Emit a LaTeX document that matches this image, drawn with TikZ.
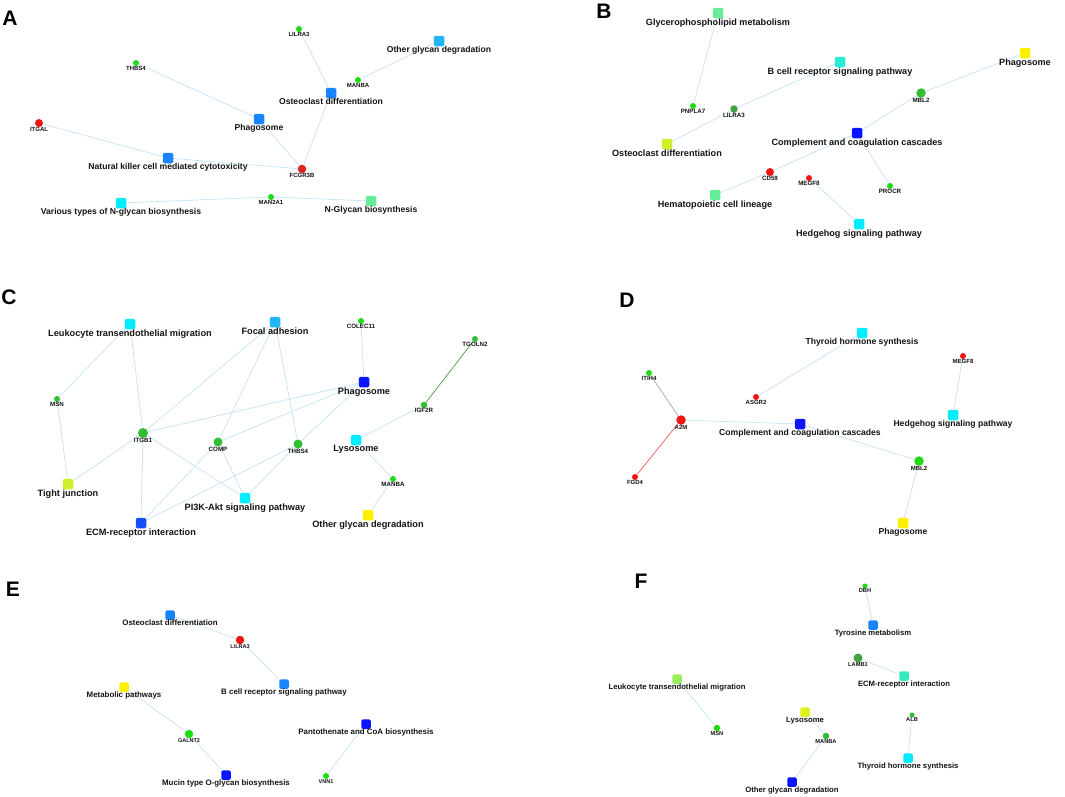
\documentclass[tikz,border=0pt]{standalone}
\usepackage{fontspec}
\setmainfont{Liberation Sans}
\usetikzlibrary{positioning,backgrounds}

\definecolor{sqblue}{RGB}{24,132,255}
\definecolor{sqsky}{RGB}{34,180,245}
\definecolor{sqcyan}{RGB}{0,236,255}
\definecolor{sqteal}{RGB}{40,236,215}
\definecolor{sqmint}{RGB}{102,236,150}
\definecolor{sqlime}{RGB}{205,240,40}
\definecolor{sqyellow}{RGB}{255,240,0}
\definecolor{sqdeep}{RGB}{10,20,255}
\definecolor{sqecm}{RGB}{20,80,245}
\definecolor{sqlgreen}{RGB}{150,238,90}
\definecolor{sqaqua}{RGB}{50,236,190}
\definecolor{sqlemon}{RGB}{222,242,30}
\definecolor{gbright}{RGB}{30,220,20}
\definecolor{gmid}{RGB}{50,190,50}
\definecolor{gdark}{RGB}{70,160,70}
\definecolor{gred}{RGB}{240,20,20}
\definecolor{gred2}{RGB}{220,35,35}
\definecolor{lkblue}{RGB}{198,228,247}
\definecolor{txt}{RGB}{20,20,20}

\tikzset{
    pwsize/.code={\def\pwfont{\bfseries\fontsize{#1}{#1}\selectfont}},
    gnsize/.code={\def\gnfont{\bfseries\fontsize{#1}{#1}\selectfont}},
    pwsize=9, gnsize=6,
    pw/.style={rectangle, rounded corners=1.5pt, minimum size=10.5pt, inner sep=0pt, label distance=0.6pt},
    gene/.style={circle, inner sep=0pt, minimum size=6pt, fill=gbright, label distance=0pt},
    pwlab/.style={font=\pwfont, text=txt, inner sep=0pt},
    gnlab/.style={font=\gnfont, text=txt, inner sep=0pt},
    lp/.style={label={[pwlab]below:#1}},
    lg/.style={label={[gnlab]below:#1}},
    lk/.style={draw=lkblue, line width=0.7pt},
    panel/.style={font=\bfseries\fontsize{21}{21}\selectfont, inner sep=0pt},
}

\begin{document}
\begin{tikzpicture}[x=1pt, y=-1pt]
    \begin{scope}[on background layer]
        \fill[white] (0,0) rectangle (1065,796);
    \end{scope}
    \useasboundingbox (0,0) rectangle (1065,796);

    % A
    \begin{scope}[pwsize=8.6, gnsize=6]
        \node[panel] (pa) at (10,18) {A};
        \node[gene, lg=LILRA3] (alilra) at (299,29) {};
        \node[pw, fill=sqsky, lp=Other glycan degradation] (aother) at (439,41) {};
        \node[gene, lg=THBS4] (athbs) at (136,63) {};
        \node[gene, lg=MANBA] (amanba) at (358,80) {};
        \node[pw, fill=sqblue, lp=Osteoclast differentiation] (aost) at (331,93) {};
        \node[pw, fill=sqblue, lp=Phagosome] (aphag) at (259,119) {};
        \node[gene, fill=gred, minimum size=8pt, lg=ITGAL] (aitgal) at (39,123) {};
        \node[pw, fill=sqblue, lp=Natural killer cell mediated cytotoxicity] (ank) at (168,158) {};
        \node[gene, fill=gred2, minimum size=8.5pt, lg=FCGR3B] (afcgr) at (302,169) {};
        \node[gene, lg=MAN2A1] (aman) at (271,197) {};
        \node[pw, fill=sqcyan, lp=Various types of N-glycan biosynthesis] (avar) at (121,203) {};
        \node[pw, fill=sqmint, lp=N-Glycan biosynthesis] (anglyc) at (371,201) {};

        \begin{scope}[on background layer]
            \draw[lk] (alilra) -- (aost);
            \draw[lk] (amanba) -- (aother);
            \draw[lk] (athbs) -- (aphag);
            \draw[lk] (aost) -- (afcgr);
            \draw[lk] (aphag) -- (afcgr);
            \draw[lk] (aitgal) -- (ank);
            \draw[lk] (ank) -- (afcgr);
            \draw[lk] (avar) -- (aman);
            \draw[lk] (aman) -- (anglyc);
        \end{scope}
    \end{scope}

    % B
    \begin{scope}[pwsize=9.1, gnsize=6.2]
        \node[panel] (pb) at (604,11) {B};
        \node[pw, fill=sqmint, lp=Glycerophospholipid metabolism] (bgly) at (718,13) {};
        \node[pw, fill=sqteal, lp=B cell receptor signaling pathway] (bbcell) at (840,62) {};
        \node[pw, fill=sqyellow, lp=Phagosome] (bphag) at (1025,53) {};
        \node[gene, fill=gmid, minimum size=9.5pt, lg=MBL2] (bmbl) at (921,93) {};
        \node[gene, lg=PNPLA7] (bpnp) at (693,106) {};
        \node[gene, fill=gdark, minimum size=7.5pt, lg=LILRA3] (blilra) at (734,109) {};
        \node[pw, fill=sqdeep, lp=Complement and coagulation cascades] (bcomp) at (857,133) {};
        \node[pw, fill=sqlime, lp=Osteoclast differentiation] (bost) at (667,144) {};
        \node[gene, fill=gred, minimum size=8pt, lg=CD59] (bcd) at (770,172) {};
        \node[gene, fill=gred, lg=MEGF8] (bmegf) at (809,178) {};
        \node[gene, lg=PROCR] (bprocr) at (890,186) {};
        \node[pw, fill=sqmint, lp=Hematopoietic cell lineage] (bhem) at (715,195) {};
        \node[pw, fill=sqcyan, lp=Hedgehog signaling pathway] (bhedge) at (859,224) {};

        \begin{scope}[on background layer]
            \draw[lk] (bgly) -- (bpnp);
            \draw[lk] (bbcell) -- (blilra);
            \draw[lk] (blilra) -- (bost);
            \draw[lk] (bphag) -- (bmbl);
            \draw[lk] (bmbl) -- (bcomp);
            \draw[lk] (bcomp) -- (bcd);
            \draw[lk] (bcd) -- (bhem);
            \draw[lk] (bcomp) -- (bprocr);
            \draw[lk] (bmegf) -- (bhedge);
        \end{scope}
    \end{scope}

    % C
    \begin{scope}[pwsize=9.2, gnsize=6.2]
        \node[panel] (pc) at (9,297) {C};
        \node[pw, fill=sqcyan, lp=Leukocyte transendothelial migration] (cleuk) at (130,324) {};
        \node[pw, fill=sqsky, lp=Focal adhesion] (cfocal) at (275,322) {};
        \node[gene, lg=COLEC11] (ccolec) at (361,321) {};
        \node[gene, fill=gmid, lg=TGOLN2] (ctgoln) at (475,339) {};
        \node[pw, fill=sqdeep, lp=Phagosome] (cphag) at (364,382) {};
        \node[gene, fill=gmid, lg=MSN] (cmsn) at (57,399) {};
        \node[gene, fill=gmid, minimum size=6.5pt, lg=IGF2R] (cigf) at (424,405) {};
        \node[gene, fill=gmid, minimum size=10pt, lg=ITGB1] (citgb) at (143,433) {};
        \node[gene, fill=gmid, minimum size=9pt, lg=COMP] (ccomp) at (218,442) {};
        \node[gene, fill=gmid, minimum size=9pt, lg=THBS4] (cthbs) at (298,444) {};
        \node[pw, fill=sqcyan, lp=Lysosome] (clyso) at (356,440) {};
        \node[gene, lg=MANBA] (cmanba) at (393,479) {};
        \node[pw, fill=sqlime, lp=Tight junction] (ctight) at (68,484) {};
        \node[pw, fill=sqcyan, lp=PI3K-Akt signaling pathway] (cpi3k) at (245,498) {};
        \node[pw, fill=sqyellow, lp=Other glycan degradation] (cother) at (368,515) {};
        \node[pw, fill=sqecm, lp=ECM-receptor interaction] (cecm) at (141,523) {};

        \begin{scope}[on background layer]
            \draw[lk] (cleuk) -- (cmsn);
            \draw[lk] (cleuk) -- (citgb);
            \draw[lk] (cmsn) -- (ctight);
            \draw[lk] (citgb) -- (ctight);
            \draw[lk] (citgb) -- (cecm);
            \draw[lk] (citgb) -- (cpi3k);
            \draw[lk] (citgb) -- (cfocal);
            \draw[lk] (citgb) -- (cphag);
            \draw[lk] (ccomp) -- (cfocal);
            \draw[lk] (ccomp) -- (cphag);
            \draw[lk] (ccomp) -- (cecm);
            \draw[lk] (ccomp) -- (cpi3k);
            \draw[lk] (cthbs) -- (cfocal);
            \draw[lk] (cthbs) -- (cphag);
            \draw[lk] (cthbs) -- (cecm);
            \draw[lk] (cthbs) -- (cpi3k);
            \draw[lk] (ccolec) -- (cphag);
            \draw[draw=gdark, line width=0.7pt] (ctgoln) -- (cigf);
            \draw[lk] (cigf) -- (clyso);
            \draw[lk] (clyso) -- (cmanba);
            \draw[lk] (cmanba) -- (cother);
        \end{scope}
    \end{scope}

    % D
    \begin{scope}[pwsize=8.6, gnsize=6]
        \node[panel] (pd) at (627,300) {D};
        \node[pw, fill=sqcyan, lp=Thyroid hormone synthesis] (dthyr) at (862,333) {};
        \node[gene, fill=gred, lg=MEGF8] (dmegf) at (963,356) {};
        \node[gene, lg=ITIH4] (ditih) at (649,373) {};
        \node[gene, fill=gred, lg=ASGR2] (dasgr) at (756,397) {};
        \node[pw, fill=sqcyan, lp=Hedgehog signaling pathway] (dhedge) at (953,415) {};
        \node[gene, fill=gred, minimum size=9.5pt, lg=A2M] (da2m) at (681,420) {};
        \node[pw, fill=sqdeep, lp=Complement and coagulation cascades] (dcomp) at (800,424) {};
        \node[gene, minimum size=9.5pt, lg=MBL2] (dmbl) at (919,461) {};
        \node[gene, fill=gred, lg=FGD4] (dfgd) at (635,477) {};
        \node[pw, fill=sqyellow, lp=Phagosome] (dphag) at (903,523) {};

        \begin{scope}[on background layer]
            \draw[lk] (dthyr) -- (dasgr);
            \draw[lk] (dmegf) -- (dhedge);
            \draw[draw=gray!70, line width=0.7pt] (ditih) -- (da2m);
            \draw[draw=gred!70, line width=0.7pt] (da2m) -- (dfgd);
            \draw[lk] (da2m) -- (dcomp);
            \draw[lk] (dcomp) -- (dmbl);
            \draw[lk] (dmbl) -- (dphag);
        \end{scope}
    \end{scope}

    % E
    \begin{scope}[pwsize=7.9, gnsize=5.5, pw/.append style={minimum size=9.5pt}]
        \node[panel] (pe) at (13,589) {E};
        \node[pw, fill=sqblue, lp=Osteoclast differentiation] (eost) at (170,615) {};
        \node[gene, fill=gred, minimum size=8.5pt, lg=LILRA3] (elilra) at (240,640) {};
        \node[pw, fill=sqyellow, lp=Metabolic pathways] (emeta) at (124,687) {};
        \node[pw, fill=sqblue, lp=B cell receptor signaling pathway] (ebcell) at (284,684) {};
        \node[pw, fill=sqdeep, lp=Pantothenate and CoA biosynthesis] (epanto) at (366,724) {};
        \node[gene, minimum size=8.5pt, lg=GALNT2] (egal) at (189,734) {};
        \node[pw, fill=sqdeep, lp=Mucin type O-glycan biosynthesis] (emucin) at (226,775) {};
        \node[gene, lg=VNN1] (evnn) at (326,776) {};

        \begin{scope}[on background layer]
            \draw[lk] (eost) -- (elilra);
            \draw[lk] (elilra) -- (ebcell);
            \draw[lk] (emeta) -- (egal);
            \draw[lk] (egal) -- (emucin);
            \draw[lk] (epanto) -- (evnn);
        \end{scope}
    \end{scope}

    % F
    \begin{scope}[pwsize=7.7, gnsize=5.7, pw/.append style={minimum size=9.5pt}]
        \node[panel] (pf) at (641,581) {F};
        \node[gene, minimum size=5pt, lg=DBH] (fdbh) at (865,586) {};
        \node[pw, fill=sqblue, lp=Tyrosine metabolism] (ftyr) at (873,625) {};
        \node[gene, fill=gdark, minimum size=9pt, lg=LAMB1] (flamb) at (858,658) {};
        \node[pw, fill=sqaqua, lp=ECM-receptor interaction] (fecm) at (904,676) {};
        \node[pw, fill=sqlgreen, lp=Leukocyte transendothelial migration] (fleuk) at (677,679) {};
        \node[pw, fill=sqlemon, lp=Lysosome] (flyso) at (805,712) {};
        \node[gene, fill=gmid, minimum size=5pt, lg=ALB] (falb) at (912,715) {};
        \node[gene, minimum size=6.5pt, lg=MSN] (fmsn) at (717,728) {};
        \node[gene, fill=gmid, minimum size=6.5pt, lg=MANBA] (fmanba) at (826,736) {};
        \node[pw, fill=sqcyan, lp=Thyroid hormone synthesis] (fthyr) at (908,758) {};
        \node[pw, fill=sqdeep, lp=Other glycan degradation] (fother) at (792,782) {};

        \begin{scope}[on background layer]
            \draw[lk] (fdbh) -- (ftyr);
            \draw[lk] (flamb) -- (fecm);
            \draw[lk] (fleuk) -- (fmsn);
            \draw[lk] (flyso) -- (fmanba);
            \draw[lk] (fmanba) -- (fother);
            \draw[lk] (falb) -- (fthyr);
        \end{scope}
    \end{scope}
\end{tikzpicture}
\end{document}
